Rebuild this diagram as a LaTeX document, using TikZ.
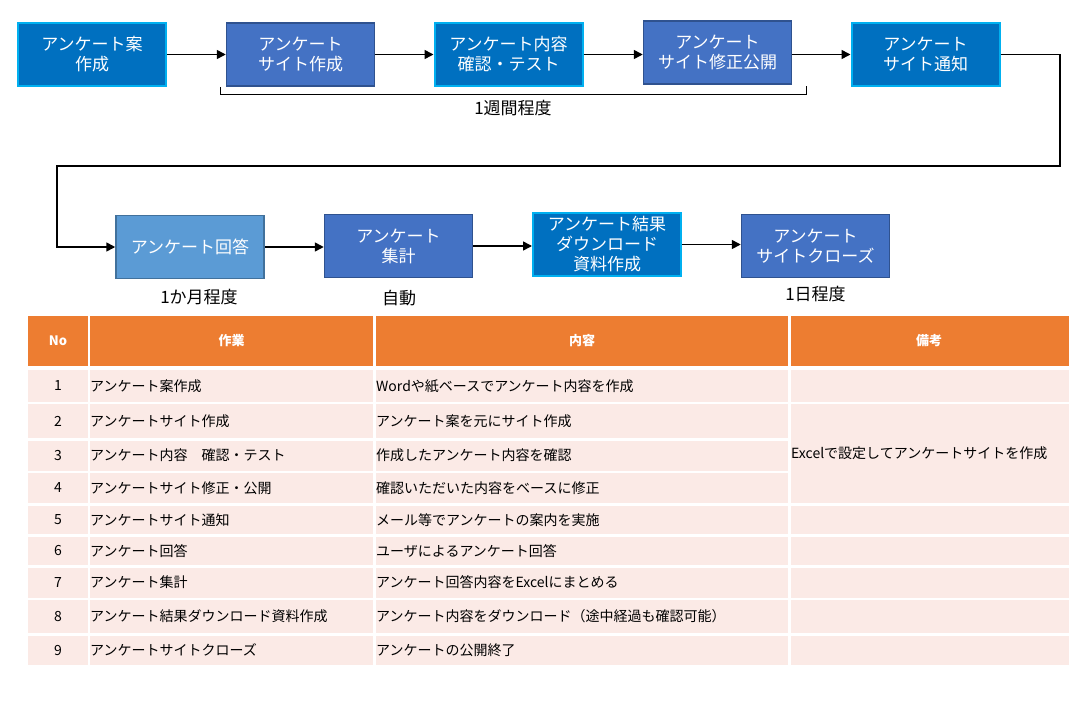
\documentclass[tikz,border=0pt]{standalone}
\usepackage{fontspec}
\setmainfont{Noto Sans CJK JP}
\usetikzlibrary{arrows.meta}
\definecolor{flowblue}{HTML}{0070C0}
\definecolor{flowcyan}{HTML}{00B0F0}
\definecolor{siteblue}{HTML}{4472C4}
\definecolor{siteedge}{HTML}{2F528F}
\definecolor{ansblue}{HTML}{5B9BD5}
\definecolor{ansedge}{HTML}{41719C}
\definecolor{headorange}{HTML}{ED7D31}
\definecolor{rowpink}{RGB}{251,234,230}

\begin{document}
\begin{tikzpicture}[x=1pt,y=-1pt,
    flowbox/.style={text=white,align=center,inner sep=0pt,minimum width=148pt,
      minimum height=63pt,font=\fontsize{17}{20}\selectfont},
    stepA/.style={flowbox,fill=flowblue,draw=flowcyan,line width=2pt},
    stepB/.style={flowbox,fill=siteblue,draw=siteedge,line width=1.5pt},
    stepC/.style={flowbox,fill=ansblue,draw=ansedge,line width=1.5pt},
    flowarrow/.style={line width=1.6pt,-{Triangle[length=9pt,width=9pt]}},
    note/.style={font=\fontsize{17}{20}\selectfont},
    headtxt/.style={text=white,font=\fontsize{13}{15}\selectfont\bfseries},
    celltxt/.style={font=\fontsize{14}{16}\selectfont,inner sep=0pt,anchor=west},
    cellsep/.style={white,line width=2.5pt}]
    \useasboundingbox (0,0) rectangle (1086,704);

    % flow
    \node[stepA] (enq) at (92,54.5) {アンケート案\\作成};
    \node[stepB] (site) at (300.5,54.5) {アンケート\\サイト作成};
    \node[stepA] (test) at (508.5,54.5) {アンケート内容\\確認・テスト};
    \node[stepB] (fix) at (717.5,52.5) {アンケート\\サイト修正公開};
    \node[stepA] (notice) at (925.5,54.5) {アンケート\\サイト通知};
    \node[stepC] (answer) at (190,247) {アンケート回答};
    \node[stepB] (count) at (398.5,246) {アンケート\\集計};
    \node[stepA] (dl) at (607,244.5) {アンケート結果\\ダウンロード\\資料作成};
    \node[stepB] (close) at (815.5,246) {アンケート\\サイトクローズ};

    \draw[flowarrow] (enq.east) -- (site.west);
    \draw[flowarrow] (site.east) -- (test.west);
    \draw[flowarrow] (test.east) -- (test.east -| fix.west);
    \draw[flowarrow] (fix.east |- notice.west) -- (notice.west);
    \coordinate (turnR) at (1060,166);
    \coordinate (turnL) at (57,166);
    \draw[flowarrow] (notice.east) -| (turnR) -- (turnL) |- (answer.west);
    \draw[flowarrow] (answer.east) -- (answer.east -| count.west);
    \draw[flowarrow] (count.east) -- (count.east -| dl.west);
    \draw[flowarrow] (dl.east) -- (dl.east -| close.west);

    \coordinate (brL) at (220,87);
    \coordinate (brR) at (806,86);
    \draw[line width=1pt] (brL) -- ++(0,7.5) -| (brR);
    \node[note] (week) at (513,108) {1週間程度};
    \node[note] (month) at (199,297) {1か月程度};
    \node[note] (auto) at (399,298) {自動};
    \node[note] (day) at (815.5,294) {1日程度};

    % table
    \fill[headorange] (28,316) rectangle (1069,365.5);
    \fill[rowpink] (28,369.5) rectangle (1069,665);
    \foreach \x in {89,374.5,789.5}
      \draw[cellsep] (\x,316) -- (\x,665);
    \foreach \y in {403,504.5,535.5,566.5,599,634.5}
      \draw[cellsep] (28,\y) -- (1069,\y);
    \foreach \y in {439.3,472}
      \draw[cellsep] (28,\y) -- (789.5,\y);

    \node[headtxt] (hno) at (58,341) {No};
    \node[headtxt] (hwork) at (231.5,341) {作業};
    \node[headtxt] (hcont) at (582,341) {内容};
    \node[headtxt] (hnote) at (929,341) {備考};

    \foreach \y/\n/\w/\c in {
        386/1/アンケート案作成/Wordや紙ベースでアンケート内容を作成,
        421/2/アンケートサイト作成/アンケート案を元にサイト作成,
        455.5/3/アンケート内容\quad 確認・テスト/作成したアンケート内容を確認,
        488/4/アンケートサイト修正・公開/確認いただいた内容をベースに修正,
        520/5/アンケートサイト通知/メール等でアンケートの案内を実施,
        551/6/アンケート回答/ユーザによるアンケート回答,
        582.5/7/アンケート集計/アンケート回答内容をExcelにまとめる,
        616/8/アンケート結果ダウンロード資料作成/アンケート内容をダウンロード（途中経過も確認可能）,
        650/9/アンケートサイトクローズ/アンケートの公開終了} {
      \node[celltxt,anchor=center] (no\n) at (58,\y) {\n};
      \node[celltxt] (work\n) at (90,\y) {\w};
      \node[celltxt] (cont\n) at (376,\y) {\c};
    }
    \node[celltxt] (memo) at (791,453) {Excelで設定してアンケートサイトを作成};
\end{tikzpicture}
\end{document}
